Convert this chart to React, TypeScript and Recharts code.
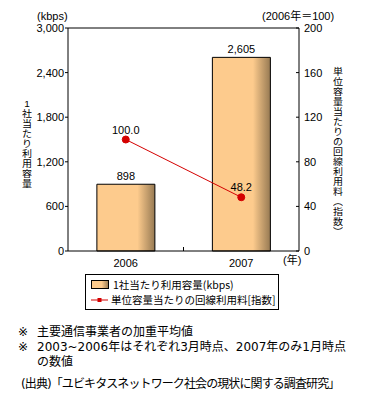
import React from "react";
import {
  ComposedChart,
  Bar,
  Line,
  XAxis,
  YAxis,
  LabelList,
  ReferenceLine,
} from "recharts";

const years = ["2006", "2007"];
const capacity = [898, 2605];
const priceIndex = [100.0, 48.2];
const leftTicks = [0, 600, 1200, 1800, 2400, 3000];
const rightTicks = [0, 40, 80, 120, 160, 200];

const data = years.map((y, i) => ({
  year: y,
  capacity: capacity[i],
  price: priceIndex[i],
}));

const FONT = "'Liberation Sans', 'Noto Sans CJK JP', sans-serif";
const JP = "'Noto Sans CJK JP', sans-serif";
const NOTE = "'DejaVu Sans', 'Noto Sans CJK JP', sans-serif";
const PLOT_LEFT = 68;
const PLOT_RIGHT = 299;
const PLOT_W = PLOT_RIGHT - PLOT_LEFT;

const LeftTick = (props: any) => {
  const { y, payload } = props;
  return (
    <g>
      <line x1={PLOT_LEFT - 3} x2={PLOT_LEFT} y1={y} y2={y} stroke="#000" />
      <text x={PLOT_LEFT - 4} y={y} dy={4} textAnchor="end" fontSize={11} fontFamily={FONT} fill="#000">
        {payload.value.toLocaleString("en-US")}
      </text>
    </g>
  );
};

const RightTick = (props: any) => {
  const { y, payload } = props;
  return (
    <g>
      <line x1={PLOT_RIGHT - 3} x2={PLOT_RIGHT} y1={y} y2={y} stroke="#000" />
      <text x={PLOT_RIGHT + 5} y={y} dy={4} textAnchor="start" fontSize={11} fontFamily={FONT} fill="#000">
        {payload.value}
      </text>
    </g>
  );
};

const XTick = (props: any) => {
  const { x, y, payload, index } = props;
  const half = PLOT_W / years.length / 2;
  return (
    <g>
      {index === 0 && (
        <line x1={x + half} x2={x + half} y1={251} y2={247} stroke="#000" />
      )}
      <text x={x} y={y} dy={8} textAnchor="middle" fontSize={11} fontFamily={FONT} fill="#000">
        {payload.value}
      </text>
    </g>
  );
};

// vertical axis title, one character per row, squeezed a little in y
const VTitle = ({ text, left, top }: { text: string; left: number; top: number }) => {
  const step = 11.2;
  return (
    <div
      style={{
        position: "absolute",
        left,
        top,
        width: 12,
        fontFamily: FONT,
        fontSize: 10,
        transform: `scaleY(${10 / step})`,
        transformOrigin: "top left",
      }}
    >
      {Array.from(text).map((c, i) => (
        <div key={i} style={{ height: step, lineHeight: step + "px", textAlign: "center" }}>
          {c}
        </div>
      ))}
    </div>
  );
};

const noteStyle = (top: number, left: number): React.CSSProperties => ({
  position: "absolute",
  left,
  top,
  fontSize: 12,
  lineHeight: "15px",
  fontFamily: NOTE,
  whiteSpace: "nowrap",
});

export default function App() {
  return (
    <div style={{ position: "absolute", left: 0, top: 0, width: 368, height: 400, background: "#fff" }}>
      <ComposedChart
        width={368}
        height={275}
        data={data}
        margin={{ top: 28, right: 0, left: 0, bottom: 0 }}
        barCategoryGap="25%"
      >
        <defs>
          <linearGradient id="barGrad" x1="0" y1="0" x2="1" y2="0">
            <stop offset="0%" stopColor="#FDCB8D" />
            <stop offset="70%" stopColor="#FDCB8D" />
            <stop offset="100%" stopColor="#977A53" />
          </linearGradient>
        </defs>
        <XAxis
          dataKey="year"
          height={24}
          axisLine={{ stroke: "#000" }}
          tickLine={false}
          tick={<XTick />}
          interval={0}
        />
        <YAxis
          yAxisId="left"
          width={68}
          domain={[0, 3000]}
          ticks={leftTicks}
          axisLine={{ stroke: "#000" }}
          tickLine={false}
          tick={<LeftTick />}
          interval={0}
        />
        <YAxis
          yAxisId="right"
          orientation="right"
          width={69}
          domain={[0, 200]}
          ticks={rightTicks}
          axisLine={{ stroke: "#000" }}
          tickLine={false}
          tick={<RightTick />}
          interval={0}
        />
        <ReferenceLine yAxisId="left" y={3000} stroke="#000" />
        <Bar
          yAxisId="left"
          dataKey="capacity"
          fill="url(#barGrad)"
          stroke="#000"
          strokeWidth={1}
          isAnimationActive={false}
        >
          <LabelList
            dataKey="capacity"
            position="top"
            offset={4}
            fontSize={11}
            fontFamily={FONT}
            fill="#000"
            formatter={(v: any) => Number(v).toLocaleString("en-US")}
          />
        </Bar>
        <Line
          yAxisId="right"
          dataKey="price"
          stroke="#D40000"
          strokeWidth={1}
          dot={{ r: 3.5, fill: "#D40000", stroke: "#D40000" }}
          isAnimationActive={false}
        >
          <LabelList
            dataKey="price"
            position="top"
            offset={6}
            fontSize={11}
            fontFamily={FONT}
            fill="#000"
            formatter={(v: any) => Number(v).toFixed(1)}
          />
        </Line>
      </ComposedChart>

      <div style={{ position: "absolute", left: 37, top: 10, fontSize: 11, lineHeight: "12px", fontFamily: FONT }}>(kbps)</div>
      <div style={{ position: "absolute", left: 262, top: 10, fontSize: 11, lineHeight: "12px", fontFamily: FONT }}>(2006年＝100)</div>
      <div style={{ position: "absolute", left: 283, top: 254, fontSize: 11, lineHeight: "12px", fontFamily: FONT }}>(年)</div>

      <VTitle text="1社当たり利用容量" left={21} top={99} />
      <VTitle text="単位容量当たりの回線利用料︵指数︶" left={332} top={67} />

      <div
        style={{
          position: "absolute",
          left: 85,
          top: 274,
          width: 192,
          height: 34,
          border: "1px solid #000",
          fontSize: 10.5,
          fontFamily: JP,
          lineHeight: "14px",
          whiteSpace: "nowrap",
        }}
      >
        <div style={{ display: "flex", alignItems: "center", marginTop: 3, marginLeft: 5 }}>
          <svg width={19} height={10} style={{ flexShrink: 0 }}>
            <defs>
              <linearGradient id="legGrad" x1="0" y1="0" x2="1" y2="0">
                <stop offset="0%" stopColor="#FDCB8D" />
                <stop offset="60%" stopColor="#FDCB8D" />
                <stop offset="100%" stopColor="#977A53" />
              </linearGradient>
            </defs>
            <rect x={0.5} y={0.5} width={17} height={8} fill="url(#legGrad)" stroke="#000" />
          </svg>
          <span style={{ marginLeft: 3 }}>1社当たり利用容量(kbps)</span>
        </div>
        <div style={{ display: "flex", alignItems: "center", marginLeft: 5, marginTop: 1 }}>
          <svg width={19} height={10} style={{ flexShrink: 0 }}>
            <line x1={0} x2={17} y1={5} y2={5} stroke="#D40000" />
            <rect x={6.5} y={3} width={4} height={4} fill="#D40000" />
          </svg>
          <span style={{ marginLeft: 1 }}>単位容量当たりの回線利用料[指数]</span>
        </div>
      </div>

      <div style={noteStyle(325, 18)}>※</div>
      <div style={noteStyle(325, 37)}>主要通信事業者の加重平均値</div>
      <div style={noteStyle(340, 18)}>※</div>
      <div style={noteStyle(340, 37)}>2003~2006年はそれぞれ3月時点、2007年のみ1月時点</div>
      <div style={noteStyle(355, 37)}>の数値</div>
      <div style={{ ...noteStyle(377, 21), letterSpacing: -0.9 }}>
        (出典)「ユビキタスネットワーク社会の現状に関する調査研究」
      </div>
    </div>
  );
}
